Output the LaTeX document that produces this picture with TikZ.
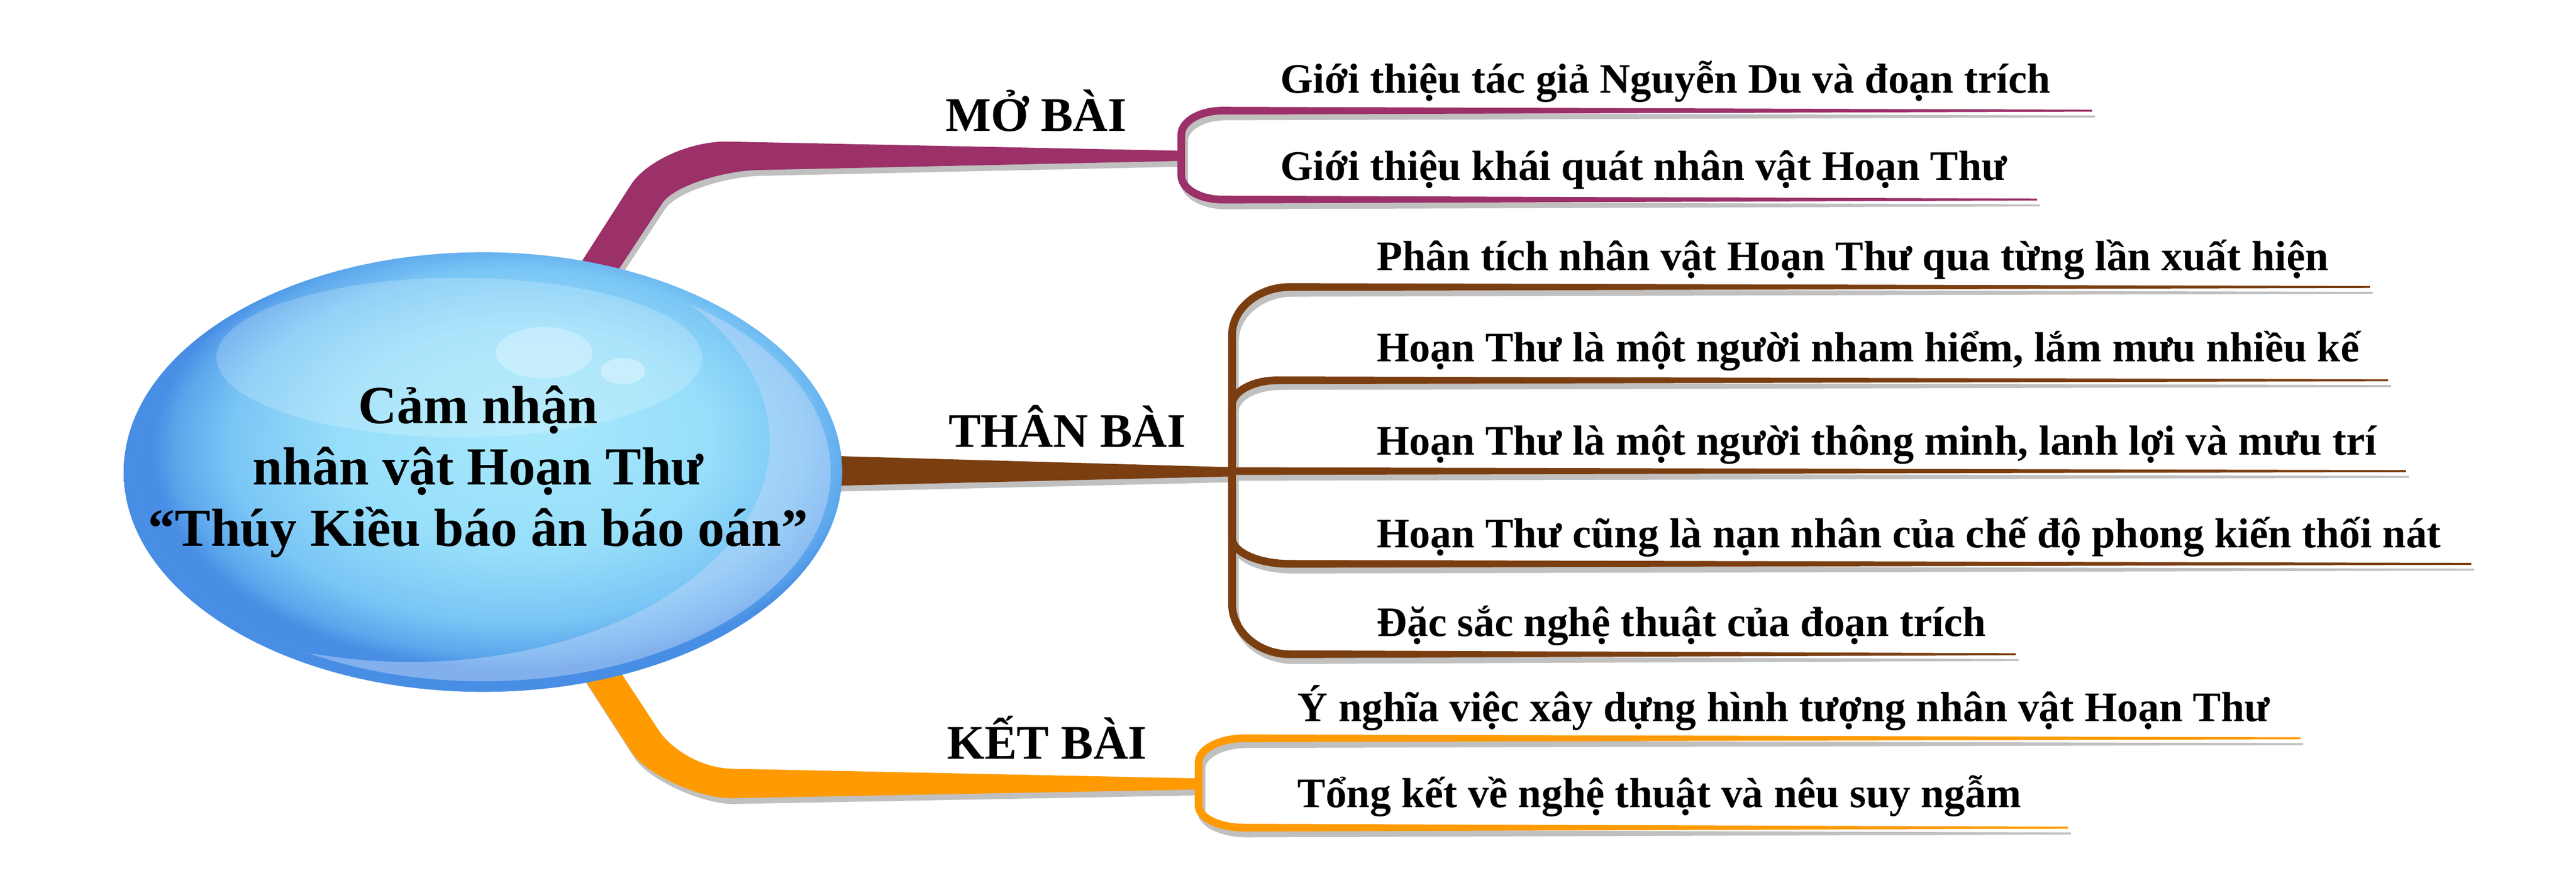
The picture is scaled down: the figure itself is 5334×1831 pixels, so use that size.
\documentclass[tikz,border=0pt]{standalone}
\usepackage{fontspec}
\setmainfont{Liberation Serif}
\usetikzlibrary{shapes.geometric}
\definecolor{cMo}{RGB}{156,48,104}
\definecolor{cThan}{RGB}{122,62,16}
\definecolor{cKet}{RGB}{255,154,0}
\definecolor{cShadow}{RGB}{192,192,192}
\definecolor{bA}{RGB}{168,232,252}
\definecolor{bB}{RGB}{150,222,250}
\definecolor{bC}{RGB}{122,198,245}
\definecolor{bD}{RGB}{92,166,236}
\definecolor{bF}{RGB}{72,142,228}
\definecolor{bE}{RGB}{200,218,250}
\pgfdeclareradialshading{bubbleshade}{\pgfpoint{4bp}{5bp}}{color(0bp)=(bA); color(13bp)=(bB); color(20bp)=(bC); color(23.5bp)=(bD); color(25bp)=(bF); color(50bp)=(bF)}

% #1 colour, #2 fork x, #3 fork y, #4 leaf y, #5 signed corner height, #6 corner width, #7 end x
\newcommand\leafpath[7]{%
  \draw[line width=1.6pt, #1] (#2,#3) -- (#2,{#4+(#5)}) .. controls (#2,{#4+0.45*(#5)}) and ({#2+0.45*#6},#4) .. ({#2+#6},#4);
  \fill[#1] ({#2+#6-1},{#4-8}) -- (#7,{#4-2}) -- (#7,{#4+2}) -- ({#2+#6-1},{#4+8}) -- cycle;
}
\newcommand\drawtree[3]{%
  \fill[#1] (1154,620) -- (1306,383) .. controls (1338,333) and (1430,292) .. (1506,293) -- (2446,312) -- (2446,333) -- (1566,352) .. controls (1500,354) and (1395,384) .. (1371,421) -- (1240,620) -- cycle;
  \fill[#2] (1700,943) -- (2551,967) -- (2551,986) -- (1700,1006) -- cycle;
  \fill[#3] (1186,1368) -- (1308,1557) .. controls (1338,1603) and (1450,1653) .. (1514,1652) -- (2482,1634) -- (2482,1611) -- (1514,1591) .. controls (1450,1589) and (1389,1550) .. (1363,1510) -- (1258,1350) -- cycle;
  \leafpath{#1}{2446}{322}{229}{50}{85}{4332}
  \leafpath{#1}{2446}{322}{413}{-50}{85}{4218}
  \leafpath{#2}{2551}{975}{594}{100}{120}{4907}
  \leafpath{#2}{2551}{975}{787}{52}{95}{4945}
  \fill[#2] (2551,967) -- (4982,973) -- (4982,977) -- (2551,983) -- cycle;
  \leafpath{#2}{2551}{975}{1167}{-54}{120}{5117}
  \leafpath{#2}{2551}{975}{1354}{-105}{120}{4174}
  \leafpath{#3}{2482}{1622}{1528}{50}{95}{4763}
  \leafpath{#3}{2482}{1622}{1713}{-45}{95}{4282}
}

\begin{document}
\begin{tikzpicture}[x=0.1pt,y=-0.1pt,
  lbl/.style={inner sep=0pt, anchor=base west, font=\fontsize{10}{12}\selectfont\bfseries},
  leaftxt/.style={inner sep=0pt, anchor=base west, font=\fontsize{8.7}{10}\selectfont\bfseries}]
\fill[white] (0,0) rectangle (5334,1831);
\useasboundingbox (0,0) rectangle (5334,1831);

% shadows
\begin{scope}[shift={(6,12)}]
  \drawtree{cShadow}{cShadow}{cShadow}
\end{scope}
% branches
\drawtree{cMo}{cThan}{cKet}

% central bubble
\node[ellipse, minimum width=148.8pt, minimum height=91pt, inner sep=0pt] (core) at (1000,977) {};
\shade[shading=bubbleshade] (core.center) ellipse [x radius=74.4pt, y radius=45.5pt];
\begin{scope}
  \clip (core.center) ellipse [x radius=72pt, y radius=43.3pt];
  \fill[white, opacity=0.2] (951,740) ellipse [x radius=50.3pt, y radius=16.5pt];
  \fill[bE, opacity=0.45, even odd rule] (core.center) ellipse [x radius=72pt, y radius=43.3pt]
        (850,915) ellipse [x radius=74.4pt, y radius=45.5pt];
\end{scope}
\fill[white, opacity=0.3] (1127,730) ellipse [x radius=10pt, y radius=5.3pt];
\fill[white, opacity=0.35] (1290,768) ellipse [x radius=4.6pt, y radius=2.7pt];

\node[font=\fontsize{11.1}{12.7}\selectfont\bfseries, align=center, inner sep=0pt] (title) at (990,976) {Cảm nhận\\nhân vật Hoạn Thư\\“Thúy Kiều báo ân báo oán”};

% branch labels
\node[lbl] (mo) at (1956,271) {MỞ BÀI};
\node[lbl] (than) at (1962,925) {THÂN BÀI};
\node[lbl] (ket) at (1959,1571) {KẾT BÀI};

% leaves
\node[leaftxt] (m1) at (2649,193) {Giới thiệu tác giả Nguyễn Du và đoạn trích};
\node[leaftxt] (m2) at (2649,373) {Giới thiệu khái quát nhân vật Hoạn Thư};
\node[leaftxt] (t1) at (2849,559) {Phân tích nhân vật Hoạn Thư qua từng lần xuất hiện};
\node[leaftxt] (t2) at (2849,748) {Hoạn Thư là một người nham hiểm, lắm mưu nhiều kế};
\node[leaftxt] (t3) at (2849,941) {Hoạn Thư là một người thông minh, lanh lợi và mưu trí};
\node[leaftxt] (t4) at (2849,1133) {Hoạn Thư cũng là nạn nhân của chế độ phong kiến thối nát};
\node[leaftxt] (t5) at (2849,1317) {Đặc sắc nghệ thuật của đoạn trích};
\node[leaftxt] (k1) at (2685,1493) {Ý nghĩa việc xây dựng hình tượng nhân vật Hoạn Thư};
\node[leaftxt] (k2) at (2685,1671) {Tổng kết về nghệ thuật và nêu suy ngẫm};
\end{tikzpicture}
\end{document}
